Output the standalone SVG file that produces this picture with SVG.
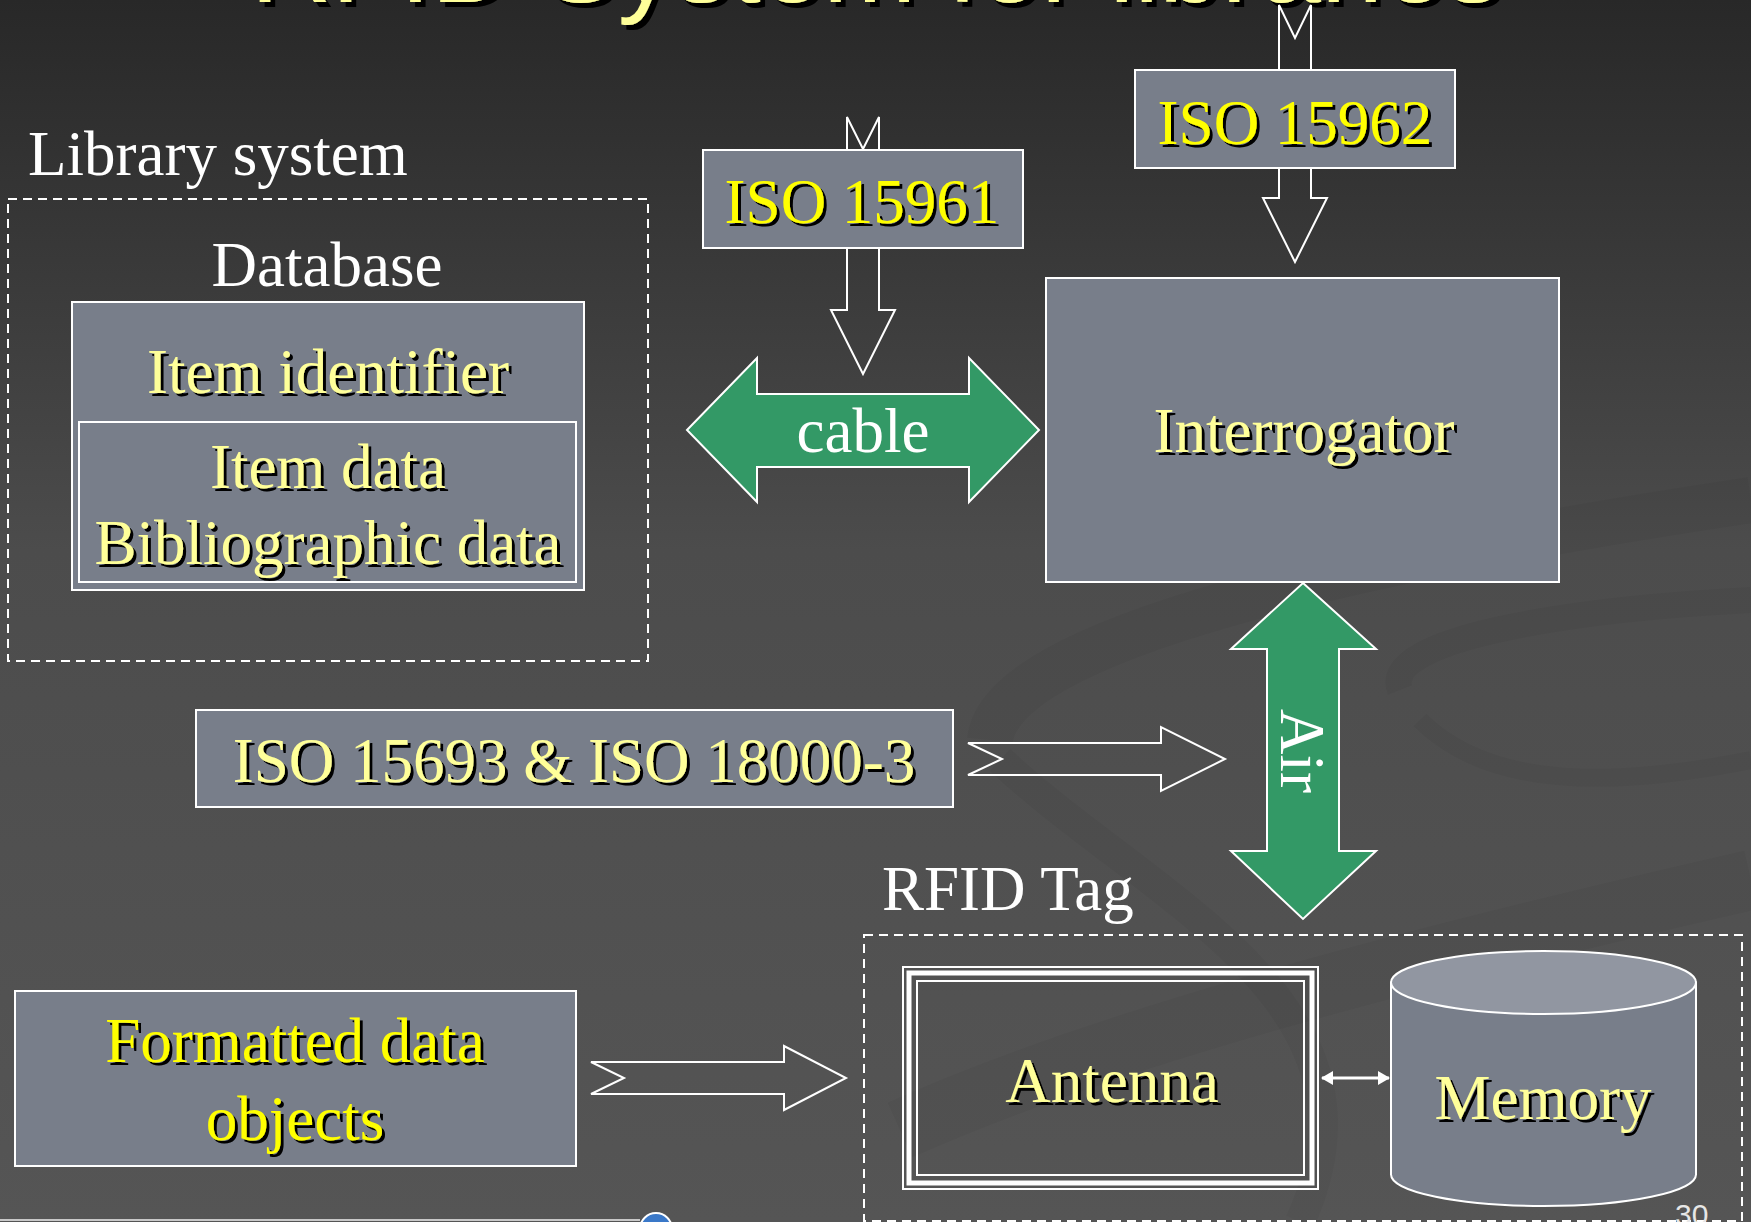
<svg xmlns="http://www.w3.org/2000/svg" width="1751" height="1222" viewBox="0 0 1751 1222">
<defs>
<linearGradient id="bg" x1="0" y1="0" x2="0" y2="1">
<stop offset="0" stop-color="#282828"/>
<stop offset="0.45" stop-color="#4c4c4c"/>
<stop offset="1" stop-color="#555555"/>
</linearGradient>
<filter id="sh" x="-10%" y="-20%" width="125%" height="150%">
<feDropShadow dx="3" dy="3" stdDeviation="0.4" flood-color="#000000" flood-opacity="1"/>
</filter>
<filter id="shT" x="-10%" y="-50%" width="125%" height="200%">
<feDropShadow dx="5" dy="5" stdDeviation="0.5" flood-color="#000000" flood-opacity="1"/>
</filter>
<marker id="ah" viewBox="0 0 12 14" refX="11" refY="7" markerWidth="12" markerHeight="14" markerUnits="userSpaceOnUse" orient="auto-start-reverse">
<path d="M0,0 L12,7 L0,14 Z" fill="#ffffff"/>
</marker>
</defs>
<style>
.lbl{font-family:"Liberation Serif","Times New Roman",serif;font-size:63px;}
.w{fill:#ffffff;}
.py{fill:#ffff99;filter:url(#sh);}
.by{fill:#ffff00;filter:url(#sh);}
.box{fill:#787e8a;stroke:#ffffff;stroke-width:2;}
.dash{fill:none;stroke:#ffffff;stroke-width:2;stroke-dasharray:9 6;}
.hollow{fill:none;stroke:#ffffff;stroke-width:2;stroke-linejoin:miter;}
.green{fill:#339966;stroke:#ffffff;stroke-width:2;}
</style>

<rect x="0" y="0" width="1751" height="1222" fill="url(#bg)"/>
<g id="swoosh" fill="none" stroke="#000000" stroke-opacity="0.035">
<path d="M 990 740 C 1000 640, 1350 560, 1751 500" stroke-width="46"/>
<path d="M 1000 760 C 1150 900, 1400 1000, 1300 1222" stroke-width="30"/>
<path d="M 1400 690 C 1380 640, 1560 610, 1751 600" stroke-width="26"/>
<path d="M 1420 720 C 1500 800, 1650 780, 1751 760" stroke-width="18"/>
<path d="M 900 1130 C 1100 1040, 1400 960, 1751 880" stroke-width="60"/>
</g>

<g id="title">
<text x="876" y="2" font-family="'Liberation Sans',Arial,sans-serif" font-size="112" text-anchor="middle" fill="#ffff99" filter="url(#shT)">RFID System for libraries</text>
</g>

<g id="connectors">
<path class="hollow" d="M847,117 L863,149 L879,117 L879,310 L895,310 L863,374 L831,310 L847,310 Z"/>
<path class="hollow" d="M1279,5 L1295,38 L1311,5 L1311,198 L1327,198 L1295,262 L1263,198 L1279,198 Z"/>
<path class="hollow" d="M968,743 L1002,759 L968,775 L1161,775 L1161,791 L1225,759 L1161,727 L1161,743 Z"/>
<path class="hollow" d="M591,1062 L624,1078 L591,1094 L784,1094 L784,1110 L846,1078 L784,1046 L784,1062 Z"/>
<g id="cable">
<path class="green" d="M687,430 L757,358 L757,394 L969,394 L969,358 L1039,430 L969,502 L969,467 L757,467 L757,502 Z"/>
<text class="lbl w" x="863" y="452" text-anchor="middle">cable</text>
</g>
<g id="air">
<path class="green" d="M1303,583 L1376,649 L1339,649 L1339,851 L1376,851 L1303,919 L1231,851 L1267,851 L1267,649 L1231,649 Z"/>
<text class="lbl w" transform="translate(1281,751) rotate(90)" text-anchor="middle">Air</text>
</g>
<line x1="1322" y1="1078" x2="1389" y2="1078" stroke="#ffffff" stroke-width="3" marker-start="url(#ah)" marker-end="url(#ah)"/>
</g>

<g id="library-system">
<rect class="dash" x="8" y="199" width="640" height="462"/>
<text class="lbl w" x="28" y="175">Library system</text>
</g>

<g id="database">
<text class="lbl w" x="327" y="286" text-anchor="middle">Database</text>
<rect class="box" x="72" y="302" width="512" height="288"/>
<text class="lbl py" x="328" y="393" text-anchor="middle">Item identifier</text>
<rect class="box" x="79" y="422" width="497" height="160"/>
<text class="lbl py" x="328" y="488" text-anchor="middle">Item data</text>
<text class="lbl py" x="328" y="564" text-anchor="middle">Bibliographic data</text>
</g>

<g id="iso15961">
<rect class="box" x="703" y="150" width="320" height="98"/>
<text class="lbl by" x="862" y="223" text-anchor="middle">ISO 15961</text>
</g>

<g id="iso15962">
<rect class="box" x="1135" y="70" width="320" height="98"/>
<text class="lbl by" x="1295" y="144" text-anchor="middle">ISO 15962</text>
</g>

<g id="interrogator">
<rect class="box" x="1046" y="278" width="513" height="304"/>
<text class="lbl py" x="1304" y="452" text-anchor="middle">Interrogator</text>
</g>

<g id="iso15693">
<rect class="box" x="196" y="710" width="757" height="97"/>
<text class="lbl py" x="574" y="782" text-anchor="middle">ISO 15693 &amp; ISO 18000-3</text>
</g>

<g id="rfid-tag">
<rect class="dash" x="864" y="935" width="878" height="286"/>
<text class="lbl w" x="882" y="910">RFID Tag</text>
</g>

<g id="formatted-data">
<rect class="box" x="15" y="991" width="561" height="175"/>
<text class="lbl by" x="295" y="1062" text-anchor="middle">Formatted data</text>
<text class="lbl by" x="295" y="1140" text-anchor="middle">objects</text>
</g>

<g id="antenna">
<rect x="903" y="967" width="415" height="222" fill="none" stroke="#ffffff" stroke-width="2"/>
<rect x="909" y="973" width="403" height="210" fill="none" stroke="#ffffff" stroke-width="5"/>
<rect x="917" y="981" width="387" height="194" fill="none" stroke="#ffffff" stroke-width="2"/>
<text class="lbl py" x="1112" y="1102" text-anchor="middle">Antenna</text>
</g>

<g id="memory">
<path d="M1391,982.5 L1391,1174.5 A152.5,31.5 0 0 0 1696,1174.5 L1696,982.5 Z" fill="#787e8a" stroke="#ffffff" stroke-width="2"/>
<ellipse cx="1543.5" cy="982.5" rx="152.5" ry="31.5" fill="#9196a1" stroke="#ffffff" stroke-width="2"/>
<text class="lbl py" x="1543" y="1119" text-anchor="middle">Memory</text>
</g>

<g id="footer">
<line x1="0" y1="1220" x2="640" y2="1220" stroke="#c8c8c8" stroke-width="2"/>
<circle cx="656" cy="1229" r="16" fill="#3a78c8" stroke="#ffffff" stroke-width="2"/>
<text x="1675" y="1225" font-family="'Liberation Sans',Arial,sans-serif" font-size="30" fill="#e6e6e6">30</text>
</g>
</svg>
